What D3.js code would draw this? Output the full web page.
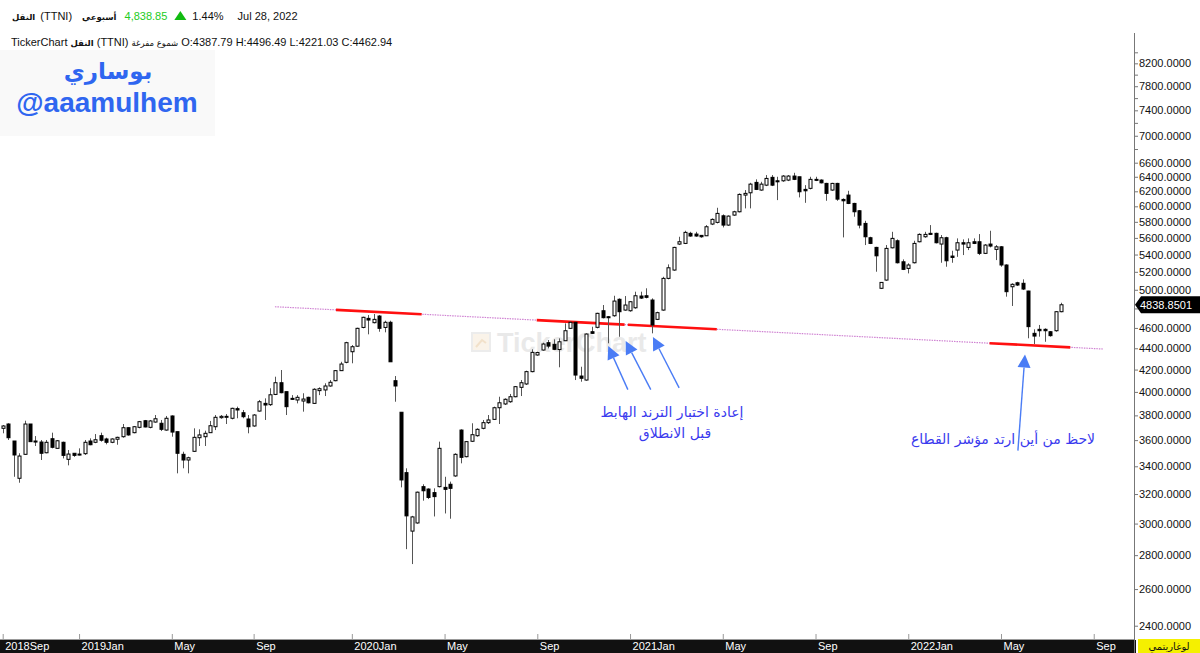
<!DOCTYPE html>
<html><head><meta charset="utf-8">
<script src="https://cdn.jsdelivr.net/npm/d3@7/dist/d3.min.js"></script>
<style>
html,body{margin:0;padding:0;background:#fff;}
svg{display:block;}
text{font-family:"Liberation Sans","DejaVu Sans",sans-serif;}
</style></head>
<body><svg id="c" width="1200" height="653"></svg>
<script>
// ---- data (weekly candles, TTNI) ----
const opens = [3694,3729,3593,3312,3490,3729,3593,3585,3502,3611,3536,3583,3452,3498,3492,3495,3593,3583,3635,3609,3583,3607,3627,3699,3659,3702,3756,3702,3745,3735,3680,3795,3667,3490,3447,3513,3619,3627,3659,3707,3781,3784,3776,3856,3822,3770,3713,3836,3901,3890,3978,4081,4002,3944,3930,3921,3953,3901,4011,4017,4052,4099,4190,4267,4367,4420,4605,4697,4653,4721,4605,4657,4099,3826,3353,2951,3004,3252,3235,3210,3252,3247,3269,3329,3680,3472,3591,3635,3694,3740,3767,3864,3896,3915,3958,4040,4070,4181,4336,4383,4454,4438,4387.79,4473,4596,4657,4141,4105,4562,4606,4776,4714,4724,4897,4783,4776,4807,4932,4935,4889,4687,4783,5126,5220,5525,5533,5656,5647,5631,5626,5772,5793,5877,5759,5886,5929,6149,6180,6322,6217,6284,6392,6344,6344,6354,6410,6400,6226,6240,6364,6354,6308,6217,6308,6091,6149,6038,5942,5780,5602,5485,5016,5107,5480,5565,5315,5239,5304,5553,5614,5656,5656,5525,5602,5382,5453,5541,5485,5553,5553,5414,5525,5461,5492,5278,5033,5077,5071,4986,4546,4586,4586,4562,4572,4766];
const highs = [3721,3735,3593,3498,3756,3729,3632,3601,3601,3659,3601,3588,3523,3498,3536,3601,3614,3648,3659,3619,3614,3627,3729,3702,3713,3754,3762,3762,3803,3762,3795,3800,3667,3510,3472,3694,3686,3675,3754,3803,3803,3811,3864,3873,3845,3803,3811,3930,3944,4032,4135,4196,4002,3972,3972,3988,3958,4032,4040,4076,4105,4196,4272,4463,4431,4602,4714,4731,4742,4731,4673,4673,4141,3826,3385,3051,3217,3269,3240,3240,3588,3323,3288,3498,3686,3593,3735,3694,3762,3803,3873,3958,3944,3982,4052,4105,4190,4390,4367,4454,4480,4487,4496.49,4646,4663,4663,4226,4546,4612,4755,4836,4721,4935,4907,4932,4878,4979,4979,5016,4907,4766,5144,5285,5492,5614,5688,5675,5675,5635,5759,5844,5981,5895,5882,5942,6172,6217,6316,6364,6330,6424,6424,6400,6424,6424,6456,6400,6284,6400,6400,6364,6316,6316,6316,6105,6207,6046,5951,5813,5614,5492,5081,5513,5675,5582,5343,5298,5565,5656,5675,5759,5664,5635,5614,5445,5594,5582,5594,5594,5647,5525,5688,5513,5501,5286,5071,5088,5115,4989,4586,4630,4596,4569,4773,4860];
const lows = [3654,3601,3323,3280,3485,3588,3554,3447,3498,3536,3536,3459,3407,3471,3482,3485,3560,3576,3588,3567,3576,3564,3619,3635,3654,3694,3702,3694,3740,3672,3675,3627,3348,3385,3348,3508,3554,3554,3659,3680,3772,3729,3767,3776,3776,3654,3707,3831,3762,3879,3972,3988,3803,3930,3901,3831,3901,3896,3972,3964,4046,4094,4187,4258,4258,4415,4596,4536,4646,4562,4556,4272,3915,3247,2837,2746,2999,3154,3165,3047,3247,3067,3032,3323,3422,3467,3585,3627,3686,3729,3762,3729,3887,3906,3953,3964,4061,4175,4329,4377,4399,4383,4221.03,4470,4589,4105,4090,4099,4539,4596,4697,4448,4714,4512,4776,4766,4797,4900,4907,4546,4680,4776,5115,5212,5513,5525,5614,5614,5602,5623,5759,5780,5730,5750,5877,5921,5973,5973,6217,6207,6271,6271,6082,6330,6340,6354,6118,6046,6226,6340,6308,6073,6207,6073,5606,6029,5865,5718,5513,5525,5201,5008,5099,5473,5296,5220,5182,5296,5546,5602,5635,5533,5304,5258,5304,5373,5394,5453,5525,5394,5406,5485,5335,5258,4925,4826,5041,4997,4497,4441,4513,4463,4513,4562,4760];
const closes = [3713,3619,3485,3477,3729,3588,3585,3498,3583,3544,3595,3482,3492,3482,3485,3583,3564,3603,3599,3583,3609,3622,3699,3641,3707,3748,3705,3754,3772,3686,3776,3664,3498,3447,3464,3622,3641,3654,3715,3784,3792,3792,3859,3845,3789,3707,3803,3915,3887,3975,4081,3993,3873,3936,3953,3938,3906,4023,4028,4052,4085,4190,4251,4454,4415,4596,4708,4680,4687,4596,4657,4272,4052,3300,3051,3044,3213,3223,3176,3182,3536,3233,3240,3490,3467,3588,3643,3686,3740,3762,3864,3906,3936,3958,4046,4081,4181,4361,4359,4441,4421,4390,4462.94,4572,4657,4150,4121,4539,4546,4749,4704,4704,4878,4766,4836,4871,4935,4910,4918,4630,4756,5126,5246,5485,5553,5668,5623,5623,5614,5738,5831,5908,5759,5873,5929,6158,6172,6298,6226,6298,6377,6284,6330,6410,6410,6364,6194,6207,6364,6350,6316,6172,6308,6095,6073,6038,5929,5759,5614,5533,5385,5081,5473,5594,5304,5228,5278,5533,5643,5643,5643,5541,5602,5327,5366,5541,5525,5541,5533,5414,5513,5501,5492,5278,4979,5060,5052,5008,4613,4519,4572,4572,4523,4766,4838.85];

// x-axis ticks (bar index of first weekly bar in month) and labels
const xTickIdx = [0,14,31,46,64,81,98,115,132,149,166,183,200];
const xTickLabels = ["2018Sep","2019Jan","May","Sep","2020Jan","May","Sep","2021Jan","May","Sep","2022Jan","May","Sep"];
// y-axis ticks
const yTickLabeled = [2400,2600,2800,3000,3200,3400,3600,3800,4000,4200,4400,4600,5000,5200,5400,5600,5800,6000,6200,6400,6600,7000,7400,7800,8200];
const yTickMinor = [4800,6800,7200,7600,8000,8400];
const lastPrice = 4838.8501;

// trendline (bar index, value) and highlighted red parts
const trendStart = [49.9, 4818];
const trendEnd = [201.7, 4393];
const redParts = [[61.1,76.8],[97.9,114.0],[114.6,130.9],[180.9,195.7]];

// arrows: [tailIndex, tailValue, tipIndex, tipValue]
const arrows = [
  [114.6, 4020, 111.0, 4422],
  [118.8, 4020, 114.2, 4470],
  [124.0, 4035, 119.2, 4510],
  [186.1, 3518, 187.4, 4340]
];

const svg = d3.select("#c");
const W = 1200, H = 653;
const plotRight = 1134, plotTop = 33, plotBottom = 639;

const x = d3.scaleLinear().domain([0,194]).range([2.7,1061]);
const y = d3.scaleLog().domain([2331.3, 8762]).range([plotBottom, plotTop]);

svg.append("rect").attr("width",W).attr("height",H).attr("fill","#fff");

// top-left signature panel
svg.append("rect").attr("x",0).attr("y",50).attr("width",215).attr("height",86).attr("fill","#f9f9f9");
svg.append("text").attr("x",108).attr("y",79).attr("text-anchor","middle")
  .style("font-family","DejaVu Sans").style("font-weight","bold").style("font-size","23px").attr("fill","#2f66f0").text("بوساري");
svg.append("text").attr("x",107).attr("y",112).attr("text-anchor","middle")
  .style("font-family","Liberation Sans").style("font-weight","bold").style("font-size","28px").attr("fill","#2f66f0").text("@aaamulhem");

// watermark
const wm = svg.append("g").attr("opacity",0.55);
wm.append("rect").attr("x",472).attr("y",333).attr("width",18).attr("height",18).attr("fill","#f6ead8").attr("stroke","#ddd").attr("stroke-width",2);
wm.append("path").attr("d","M476,347 L482,340 L486,343").attr("fill","none").attr("stroke","#e8c9a0").attr("stroke-width",2);
wm.append("text").attr("x",497).attr("y",352).style("font-family","Liberation Sans").style("font-weight","bold").style("font-size","27px").attr("fill","#d8d8d8").text("TickerChart");

// header: pieces laid out left to right, each after the previous one
const hdr = svg.append("g").style("font-size","11px").attr("fill","#111");
function piece(xx, yy, txt, opts){
  opts = opts || {};
  const t = hdr.append("text").attr("x",xx).attr("y",yy).text(txt);
  if (opts.ar){ t.style("font-family","DejaVu Sans").style("font-size","8.5px"); if(opts.bold) t.style("font-weight","bold"); }
  if (opts.fill) t.attr("fill",opts.fill);
  return xx + t.node().getComputedTextLength();
}
let e = piece(12, 20, "النقل", {ar:true,bold:true});
e = piece(e+5, 20, "(TTNI)");
e = piece(Math.max(e+10,75), 20, "أسبوعي", {ar:true,bold:true});
e = piece(Math.max(e+8,116), 20, "4,838.85", {fill:"#22cc22"});
const tx = e + 7;
hdr.append("path").attr("d",`M${tx},20 L${tx+12},20 L${tx+6},11 Z`).attr("fill","#11bb11");
e = piece(tx+18, 20, "1.44%");
piece(Math.max(e+14,231), 20, "Jul 28, 2022");
e = piece(11, 46, "TickerChart");
e = piece(e+3, 46, "النقل", {ar:true,bold:true});
e = piece(e+3, 46, "(TTNI)");
e = piece(e+3, 46, "شموع مفرغة", {ar:true});
piece(e+3, 46, "O:4387.79 H:4496.49 L:4221.03 C:4462.94");

// trendline
const tl = svg.append("g");
function tv(i){ // log-linear interpolation along trendline
  const t = (i - trendStart[0])/(trendEnd[0]-trendStart[0]);
  return Math.exp(Math.log(trendStart[1]) + t*(Math.log(trendEnd[1])-Math.log(trendStart[1])));
}
tl.append("line").attr("x1",x(trendStart[0])).attr("y1",y(trendStart[1])).attr("x2",x(trendEnd[0])).attr("y2",y(trendEnd[1]))
  .attr("stroke","#cf82d2").attr("stroke-width",1.2).attr("stroke-dasharray","1.5,1");
redParts.forEach(p=>{
  tl.append("line").attr("x1",x(p[0])).attr("y1",y(tv(p[0]))).attr("x2",x(p[1])).attr("y2",y(tv(p[1])))
    .attr("stroke","#ff1010").attr("stroke-width",2.6);
});

// candles
const n = opens.length;
const idx = d3.range(n);
const cg = svg.append("g");
cg.selectAll("line.w").data(idx).join("line").attr("class","w")
  .attr("x1",i=>Math.round(x(i))+0.5).attr("x2",i=>Math.round(x(i))+0.5)
  .attr("y1",i=>y(highs[i])).attr("y2",i=>y(lows[i]))
  .attr("stroke","#555").attr("stroke-width",1);
cg.selectAll("rect.b").data(idx).join("rect").attr("class","b")
  .attr("x",i=>Math.round(x(i))-1)
  .attr("width",3)
  .attr("y",i=>y(Math.max(opens[i],closes[i])))
  .attr("height",i=>Math.max(1, y(Math.min(opens[i],closes[i]))-y(Math.max(opens[i],closes[i]))))
  .attr("fill",i=>closes[i]>=opens[i]?"#fff":"#000")
  .attr("stroke","#000").attr("stroke-width",1);

// arrows
const ag = svg.append("g");
const aCol = "#4a7cf5";
arrows.forEach(a=>{
  const x1=x(a[0]), y1=y(a[1]), x2=x(a[2]), y2=y(a[3]);
  const ang = Math.atan2(y2-y1, x2-x1);
  const L = 13, Wd = 6.5;
  const bx = x2 - L*Math.cos(ang), by = y2 - L*Math.sin(ang);
  ag.append("line").attr("x1",x1).attr("y1",y1).attr("x2",bx).attr("y2",by).attr("stroke",aCol).attr("stroke-width",1.4);
  const px = -Math.sin(ang)*Wd, py = Math.cos(ang)*Wd;
  ag.append("path").attr("d",`M${x2},${y2} L${bx+px},${by+py} L${bx-px},${by-py} Z`).attr("fill",aCol);
});

// annotation texts
const tcol = "#3a3aee";
svg.append("text").attr("x",672).attr("y",417).attr("text-anchor","middle").style("font-family","DejaVu Sans").style("font-size","14px").attr("fill",tcol).text("إعادة اختبار الترند الهابط");
svg.append("text").attr("x",675).attr("y",438).attr("text-anchor","middle").style("font-family","DejaVu Sans").style("font-size","14px").attr("fill",tcol).text("قبل الانطلاق");
svg.append("text").attr("x",1003).attr("y",444).attr("text-anchor","middle").style("font-family","DejaVu Sans").style("font-size","14px").attr("fill",tcol).text("لاحظ من أين ارتد مؤشر القطاع");

// x axis
svg.append("rect").attr("x",0).attr("y",640).attr("width",1136).attr("height",13).attr("fill","#111");
const xa = svg.append("g").attr("transform",`translate(0,${plotBottom})`)
  .call(d3.axisBottom(x).tickValues(xTickIdx).tickFormat((d,i)=>xTickLabels[i]).tickSize(-5).tickSizeOuter(0));
xa.select(".domain").attr("stroke","#999").attr("d",`M0,0.5H${plotRight}`);
xa.selectAll(".tick line").attr("stroke","#999");
xa.selectAll(".tick text").attr("fill","#fff").attr("x",2).attr("y",3).attr("dy","0.71em")
  .attr("text-anchor","start").style("font-family","Liberation Sans").style("font-size","11px");

// y axis
const allY = yTickLabeled.concat(yTickMinor);
const ya = svg.append("g").attr("transform",`translate(${plotRight},0)`)
  .call(d3.axisRight(y).tickValues(allY).tickFormat(d=>yTickLabeled.includes(d)?d.toFixed(4):"").tickSize(4).tickSizeOuter(0));
ya.select(".domain").remove();
ya.selectAll(".tick line").attr("stroke","#777");
ya.selectAll(".tick text").attr("x",5).attr("fill","#111").style("font-family","Liberation Sans").style("font-size","11px");
svg.append("line").attr("x1",plotRight+0.5).attr("x2",plotRight+0.5).attr("y1",plotTop).attr("y2",H).attr("stroke","#777");

// last price tag
const ly = y(lastPrice);
svg.append("path").attr("d",`M${plotRight+1},${ly} L${plotRight+7},${ly-8.5} L1200,${ly-8.5} L1200,${ly+8.5} L${plotRight+7},${ly+8.5} Z`).attr("fill","#000");
svg.append("text").attr("x",plotRight+6).attr("y",ly).attr("dy","0.35em").attr("fill","#fff").style("font-size","11px").text(lastPrice.toFixed(4));

// log label
svg.append("rect").attr("x",1138).attr("y",639).attr("width",62).attr("height",14).attr("fill","#f5f000");
svg.append("text").attr("x",1169).attr("y",650).attr("text-anchor","middle").style("font-family","DejaVu Sans").style("font-size","10px").attr("fill","#111").text("لوغاريتمي");
</script></body></html>
